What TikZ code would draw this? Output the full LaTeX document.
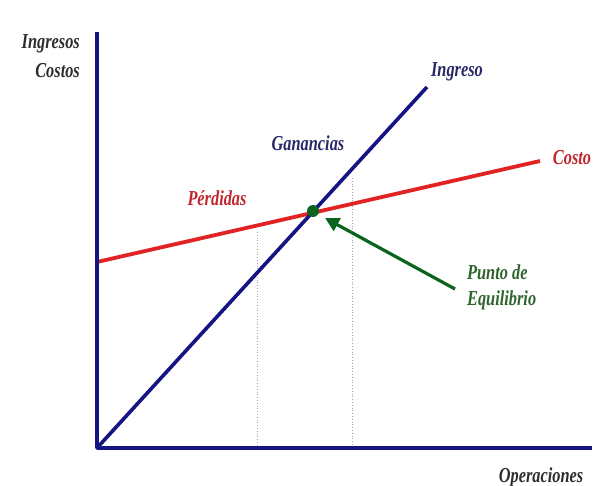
\documentclass[tikz,border=0pt]{standalone}
\usepackage{fontspec}
\setmainfont{Liberation Serif}
\usetikzlibrary{arrows.meta}
\definecolor{axisblue}{RGB}{20,20,130}
\definecolor{linered}{RGB}{225,35,35}
\definecolor{txtblue}{RGB}{40,40,105}
\definecolor{txtred}{RGB}{190,40,45}
\definecolor{txtgreen}{RGB}{45,100,45}
\definecolor{txtgray}{RGB}{45,45,45}
\definecolor{dotgreen}{RGB}{10,100,30}
\begin{document}
\begin{tikzpicture}[x=1pt,y=-1pt,
  lbl/.style={font=\fontsize{19}{22}\selectfont\bfseries\itshape, inner sep=0pt, xscale=0.86, yscale=1.12},
  guide/.style={gray!70, line width=0.8pt, dotted}]
\useasboundingbox (0,0) rectangle (605,486);
\coordinate (O) at (97,448);
\coordinate (ytop) at (97,32);
\coordinate (xend) at (592,448);
\coordinate (iend) at (427,87);
\coordinate (cstart) at (97,262);
\coordinate (cend) at (540,161);
\coordinate (g1top) at (257,232);
\coordinate (g1bot) at (257,448);
\coordinate (g2top) at (352,178);
\coordinate (g2bot) at (352,448);
\coordinate (atail) at (455,289);
\coordinate (ahead) at (325,218);
% guides
\draw[guide] (g1top) -- (g1bot);
\draw[guide] (g2top) -- (g2bot);
% lines
\draw[linered, line width=3.8pt] (cstart) -- (cend);
\draw[axisblue, line width=3.6pt] (O) -- (iend);
\draw[axisblue, line width=3.8pt, line join=round] (ytop) -- (O) -- (xend);
\node[circle, fill=dotgreen, minimum width=10pt, minimum height=12pt, inner sep=0pt] (eq) at (313,211) {};
\draw[dotgreen, line width=3.2pt, -{Triangle[length=14pt,width=14pt]}] (atail) -- (ahead);
% labels
\node[lbl, txtgray, anchor=east] (ing) at (80,44) {Ingresos};
\node[lbl, txtgray, anchor=east] (cos) at (80,71) {Costos};
\node[lbl, txtblue] (ingreso) at (457,72) {Ingreso};
\node[lbl, txtred] (costo) at (572,158) {Costo};
\node[lbl, txtblue] (gan) at (308,143) {Ganancias};
\node[lbl, txtred] (per) at (217,198) {Pérdidas};
\node[lbl, txtgreen, anchor=west] (punto) at (467,272) {Punto de};
\node[lbl, txtgreen, anchor=west] (equi) at (467,300) {Equilibrio};
\node[lbl, txtgray] (oper) at (541,477) {Operaciones};
\end{tikzpicture}
\end{document}
